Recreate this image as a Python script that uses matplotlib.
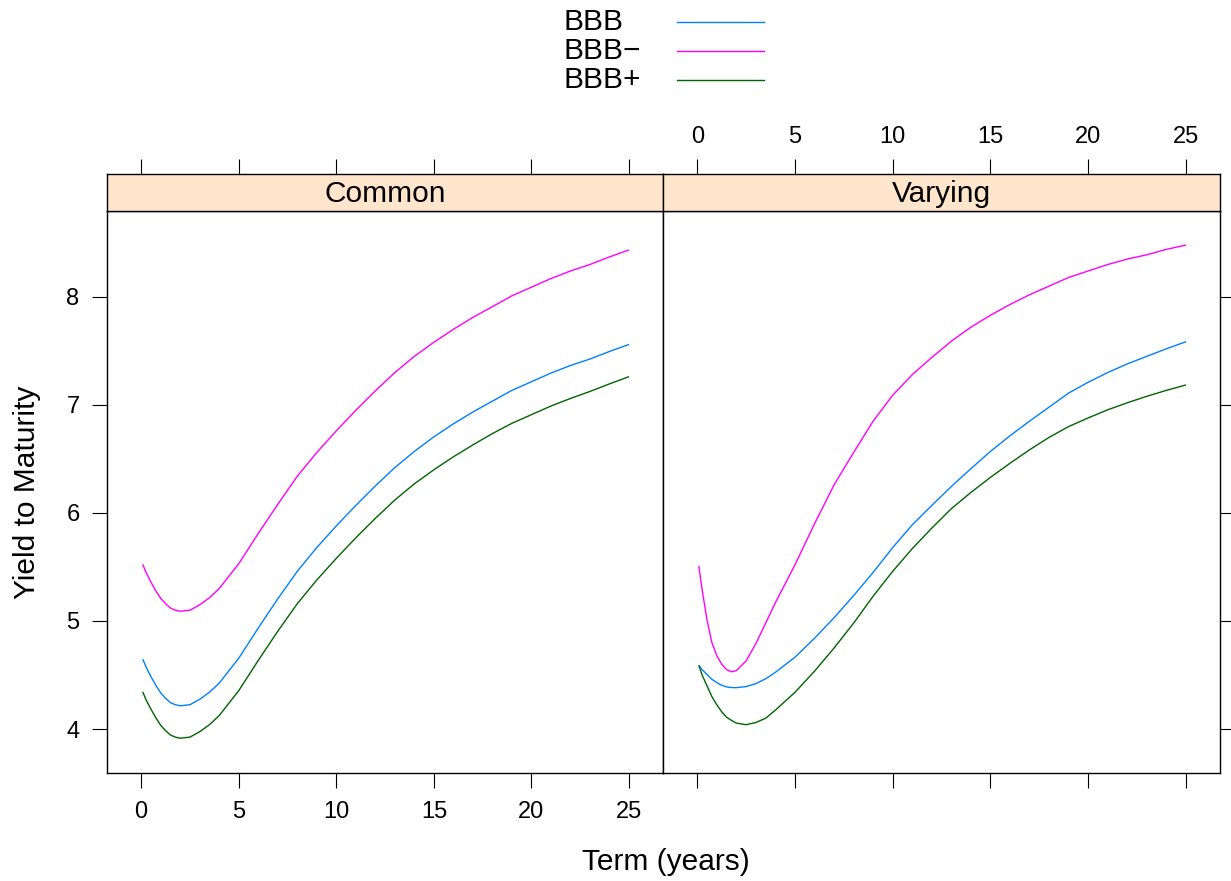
import matplotlib
matplotlib.use("Agg")
import matplotlib.pyplot as plt
from matplotlib.lines import Line2D

plt.rcParams['font.family'] = ['Liberation Sans', 'DejaVu Sans']

# Term grid (years) shared by all curves
terms = [0.08, 0.25, 0.5, 0.75, 1, 1.25, 1.5, 1.75, 2, 2.5, 3, 3.5, 4, 5, 6, 7, 8,
         9, 10, 11, 12, 13, 14, 15, 16, 17, 18, 19, 20, 21, 22, 23, 24, 25]

# Panel "Common"
common_bbb = [4.648, 4.575, 4.485, 4.405, 4.335, 4.285, 4.245, 4.225, 4.215, 4.225,
              4.275, 4.34, 4.425, 4.655, 4.935, 5.205, 5.46, 5.68, 5.88, 6.07, 6.25,
              6.42, 6.57, 6.705, 6.825, 6.935, 7.035, 7.135, 7.215, 7.295, 7.365,
              7.425, 7.495, 7.56]
common_bbb_minus = [5.525, 5.45, 5.36, 5.28, 5.21, 5.16, 5.12, 5.10, 5.09, 5.10,
                    5.15, 5.215, 5.30, 5.53, 5.81, 6.08, 6.34, 6.56, 6.76, 6.95,
                    7.13, 7.30, 7.45, 7.58, 7.70, 7.81, 7.91, 8.01, 8.09, 8.17,
                    8.24, 8.30, 8.37, 8.435]
common_bbb_plus = [4.345, 4.27, 4.185, 4.105, 4.035, 3.985, 3.945, 3.925, 3.915, 3.925,
                   3.975, 4.04, 4.125, 4.355, 4.635, 4.905, 5.16, 5.38, 5.58, 5.77,
                   5.95, 6.12, 6.27, 6.40, 6.52, 6.63, 6.735, 6.83, 6.91, 6.99,
                   7.06, 7.125, 7.195, 7.262]

# Panel "Varying"
varying_bbb = [4.59, 4.55, 4.505, 4.46, 4.43, 4.405, 4.39, 4.384, 4.383, 4.393,
               4.42, 4.465, 4.525, 4.665, 4.84, 5.03, 5.235, 5.45, 5.68, 5.89,
               6.07, 6.245, 6.41, 6.57, 6.715, 6.85, 6.98, 7.11, 7.21, 7.30,
               7.38, 7.45, 7.52, 7.585]
varying_bbb_minus = [5.51, 5.29, 5.01, 4.80, 4.68, 4.60, 4.55, 4.53, 4.54, 4.63,
                     4.79, 4.98, 5.17, 5.52, 5.90, 6.26, 6.56, 6.85, 7.09, 7.28,
                     7.44, 7.59, 7.72, 7.83, 7.93, 8.02, 8.10, 8.18, 8.24, 8.30,
                     8.35, 8.39, 8.44, 8.48]
varying_bbb_plus = [4.59, 4.50, 4.40, 4.30, 4.225, 4.16, 4.11, 4.08, 4.055, 4.04,
                    4.06, 4.10, 4.175, 4.34, 4.535, 4.75, 4.98, 5.23, 5.46, 5.67,
                    5.86, 6.04, 6.19, 6.33, 6.46, 6.585, 6.70, 6.80, 6.88, 6.955,
                    7.02, 7.08, 7.135, 7.185]

panel_names = ["Common", "Varying"]
series_names = ["BBB", "BBB\u2212", "BBB+"]
series_colors = ["#0080ff", "#ff00ff", "#006400"]
x_ticks = [0, 5, 10, 15, 20, 25]
y_ticks = [4, 5, 6, 7, 8]

panels = {
    "Common": [common_bbb, common_bbb_minus, common_bbb_plus],
    "Varying": [varying_bbb, varying_bbb_minus, varying_bbb_plus],
}

W, H = 1231, 881
fig = plt.figure(figsize=(W / 100, H / 100), dpi=100)


def box(x0, y0, x1, y1):
    return [x0 / W, 1 - y1 / H, (x1 - x0) / W, (y1 - y0) / H]


XLIM = (-1.75, 26.74)
YLIM = (3.593, 8.795)
FS_TICK = 17
FS_TEXT = 21.5
TICK_KW = dict(length=10.8, width=0.8, color="black", labelsize=FS_TICK)

panel_x = [(107, 663), (663, 1220)]
for i, name in enumerate(panel_names):
    x0, x1 = panel_x[i]
    ax = fig.add_axes(box(x0, 211, x1, 773))
    strip = fig.add_axes(box(x0, 174, x1, 211))

    for ys, col in zip(panels[name], series_colors):
        ax.plot(terms, ys, color=col, lw=1.0, solid_capstyle="butt")

    ax.set_xlim(*XLIM)
    ax.set_ylim(*YLIM)
    ax.set_xticks(x_ticks)
    ax.set_yticks(y_ticks)
    for s in ax.spines.values():
        s.set_linewidth(1.0)
    ax.tick_params(direction="out", **TICK_KW)
    if i == 0:
        ax.tick_params(axis="x", bottom=True, top=False, labelbottom=True, pad=9)
        ax.tick_params(axis="y", left=True, right=False, labelleft=True, pad=9)
    else:
        ax.tick_params(axis="x", bottom=True, top=False, labelbottom=False)
        ax.tick_params(axis="y", left=False, right=True, labelleft=False,
                       labelright=False)

    strip.set_facecolor("#ffe5cc")
    strip.set_xlim(*XLIM)
    strip.set_ylim(0, 1)
    strip.set_xticks(x_ticks)
    strip.set_yticks([])
    for s in strip.spines.values():
        s.set_linewidth(1.0)
    strip.tick_params(axis="x", direction="out", bottom=False, top=True,
                      labelbottom=False, labeltop=(i == 1), pad=8, **TICK_KW)
    strip.text(0.5, 0.45, name, transform=strip.transAxes, ha="center",
               va="center", fontsize=FS_TEXT)

# axis titles
fig.text(666 / W, 1 - 862 / H, "Term (years)", ha="center", va="center",
         fontsize=FS_TEXT)
fig.text(27 / W, 1 - 492 / H, "Yield to Maturity", ha="center", va="center",
         rotation=90, fontsize=FS_TEXT)

# key above the panels
key_rows = [22, 51, 80]
for name, col, yy in zip(series_names, series_colors, key_rows):
    fig.text(564 / W, 1 - yy / H, name, ha="left", va="center", fontsize=FS_TEXT)
    fig.add_artist(Line2D([677 / W, 764 / W], [1 - yy / H, 1 - yy / H],
                          transform=fig.transFigure, color=col, lw=1.0))

fig.savefig("out.png", dpi=100)
